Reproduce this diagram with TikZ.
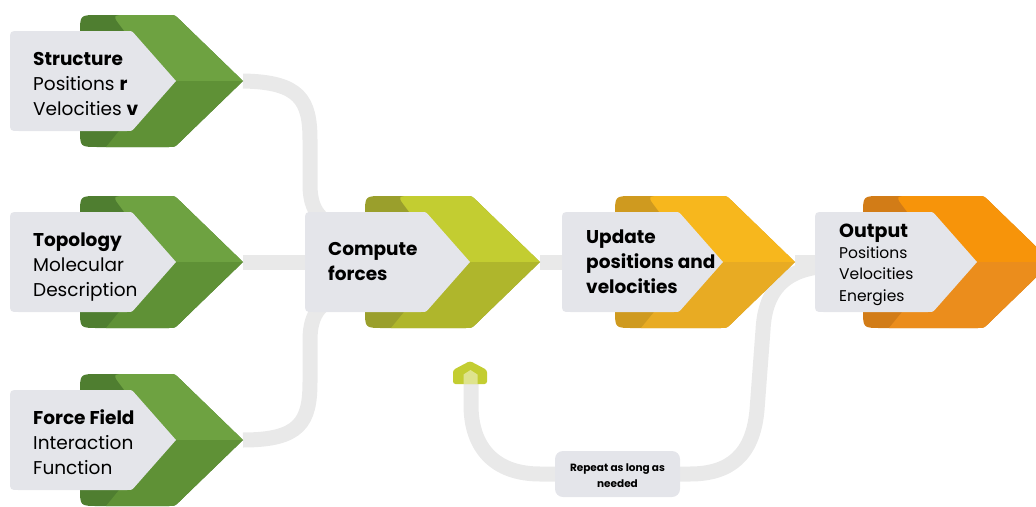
\documentclass[tikz,border=0pt]{standalone}
\usepackage{fontspec}
\setmainfont{Poppins}
\definecolor{boxgrey}{HTML}{E4E5EA}
\definecolor{linkgrey}{HTML}{E9E9E9}
\definecolor{grD}{HTML}{4F7E30}
\definecolor{grT}{HTML}{6EA241}
\definecolor{grB}{HTML}{5F9136}
\definecolor{liD}{HTML}{9A9F2C}
\definecolor{liT}{HTML}{C3CD31}
\definecolor{liB}{HTML}{AFB62C}
\definecolor{yeD}{HTML}{CF9A1F}
\definecolor{yeT}{HTML}{F7B71D}
\definecolor{yeB}{HTML}{E8AB23}
\definecolor{orD}{HTML}{D27C17}
\definecolor{orT}{HTML}{F7940A}
\definecolor{orB}{HTML}{EB8D1C}

% 3D chevron: #1 left x, #2 tip x, #3 centre y, #4 side colour, #5 upper face, #6 lower face
\newcommand\chevronshape[6]{%
  \fill[#4] (#1,#3) -- (#1,#3-48) .. controls (#1,#3-66) .. (#1+18,#3-66)
    -- (#2-74,#3-66) .. controls (#2-68,#3-66) .. (#2-63,#3-61) -- (#2,#3)
    -- (#2-63,#3+61) .. controls (#2-68,#3+66) .. (#2-74,#3+66)
    -- (#1+18,#3+66) .. controls (#1,#3+66) .. (#1,#3+48) -- cycle;
  \begin{scope}
    \clip (#1+80,#3) -- (#1+42,#3-53) .. controls (#1+32,#3-66) .. (#1+48,#3-66)
      -- (#2-74,#3-66) .. controls (#2-68,#3-66) .. (#2-63,#3-61) -- (#2,#3)
      -- (#2-63,#3+61) .. controls (#2-68,#3+66) .. (#2-74,#3+66)
      -- (#1+26,#3+66) -- cycle;
    \fill[#5] (#1,#3-70) rectangle (#2+2,#3);
    \fill[#6] (#1,#3) rectangle (#2+2,#3+70);
  \end{scope}}

% label plate with a pointed right side: #1 left x, #2 tip x, #3 centre y
\newcommand\labelplate[3]{%
  \fill[boxgrey] (#1,#3) -- (#1,#3-41) .. controls (#1,#3-50) .. (#1+9,#3-50)
    -- (#2-49,#3-50) .. controls (#2-44,#3-50) .. (#2-41,#3-46.5) -- (#2,#3)
    -- (#2-41,#3+46.5) .. controls (#2-44,#3+50) .. (#2-49,#3+50)
    -- (#1+9,#3+50) .. controls (#1,#3+50) .. (#1,#3+41) -- cycle;}

\begin{document}
\begin{tikzpicture}[x=1pt,y=-1pt,
  link/.style={draw=linkgrey,line width=15pt},
  body/.style={font=\fontsize{18.5}{25}\selectfont,align=left,inner sep=0pt,anchor=base west},
  small/.style={font=\fontsize{15.5}{21.5}\selectfont,align=left,inner sep=0pt,anchor=base west},
  repeatbox/.style={fill=boxgrey,rounded corners=8pt,minimum width=125pt,minimum height=46pt,
    inner sep=0pt,align=center,font=\bfseries\fontsize{10.5}{16}\selectfont}]
\useasboundingbox (0,0) rectangle (1036,506);

% anchor points of the flow
\coordinate (structure-tip) at (243,81);
\coordinate (topology-tip) at (243,262);
\coordinate (forcefield-tip) at (243,440);
\coordinate (compute-top-in) at (340,228);
\coordinate (compute-left) at (312,262);
\coordinate (compute-bottom-in) at (340,296);
\coordinate (compute-tip) at (540,262);
\coordinate (update-left) at (570,262);
\coordinate (update-tip) at (795,262);
\coordinate (output-left) at (825,262);
\coordinate (output-loop) at (835,266);
\coordinate (loop-head) at (471,384);

% connectors
\draw[link] (structure-tip) .. controls (300,82) and (310,100) .. (310,140)
  -- (310,185) .. controls (310,212) and (322,222) .. (compute-top-in);
\draw[link] (topology-tip) -- (compute-left);
\draw[link] (forcefield-tip) .. controls (300,440) and (310,422) .. (310,382)
  -- (310,340) .. controls (310,312) and (322,302) .. (compute-bottom-in);
\draw[link] (compute-tip) -- (update-left);
\draw[link] (update-tip) -- (output-left);
\draw[link] (output-loop) .. controls (785,266) and (765,290) .. (763,330)
  -- (757,410) .. controls (753,455) and (730,474) .. (690,474)
  -- (540,474) .. controls (495,474) and (471,448) .. (471,405) -- (loop-head);

% arrow head of the repeat loop
\fill[liT,rounded corners=2.5pt] (453,384) -- (453,370) -- (470,361) -- (487,370) -- (487,384) -- cycle;
\fill[white,opacity=0.45] (463.5,384) -- (463.5,374.5) -- (470.5,370) -- (477.5,374.5) -- (477.5,384) -- cycle;

% blocks
\chevronshape{80}{243}{81}{grD}{grT}{grB}
\labelplate{10}{176}{81}
\chevronshape{80}{243}{262}{grD}{grT}{grB}
\labelplate{10}{176}{262}
\chevronshape{80}{243}{440}{grD}{grT}{grB}
\labelplate{10}{176}{440}
\chevronshape{365}{540}{262}{liD}{liT}{liB}
\labelplate{305}{470}{262}
\chevronshape{615}{795}{262}{yeD}{yeT}{yeB}
\labelplate{562}{723}{262}
\chevronshape{863}{1052}{262}{orD}{orT}{orB}
\labelplate{815}{977}{262}

% texts (each node sits on the baseline of its last line)
\node[body] (structure) at (33,115) {\textbf{Structure}\\Positions \textbf{r}\\Velocities \textbf{v}};
\node[body] (topology) at (33,296) {\textbf{Topology}\\Molecular\\Description};
\node[body] (forcefield) at (33,474) {\textbf{Force Field}\\Interaction\\Function};
\node[body,font=\bfseries\fontsize{18.5}{25}\selectfont] (compute) at (328,280) {Compute\\forces};
\node[body,font=\bfseries\fontsize{18.5}{25}\selectfont] (update) at (586,293) {Update\\positions and\\velocities};
\node[body,font=\bfseries\fontsize{19}{25}\selectfont] (output) at (839,237) {Output};
\node[small] (output-items) at (839,301) {Positions\\Velocities\\Energies};
\node[repeatbox] (repeat) at (617.5,474) {};
\node[font=\bfseries\fontsize{10.5}{16}\selectfont,align=center,inner sep=0pt,anchor=base]
  (repeat-text) at (617.5,487) {Repeat as long as\\needed};
\end{tikzpicture}
\end{document}
